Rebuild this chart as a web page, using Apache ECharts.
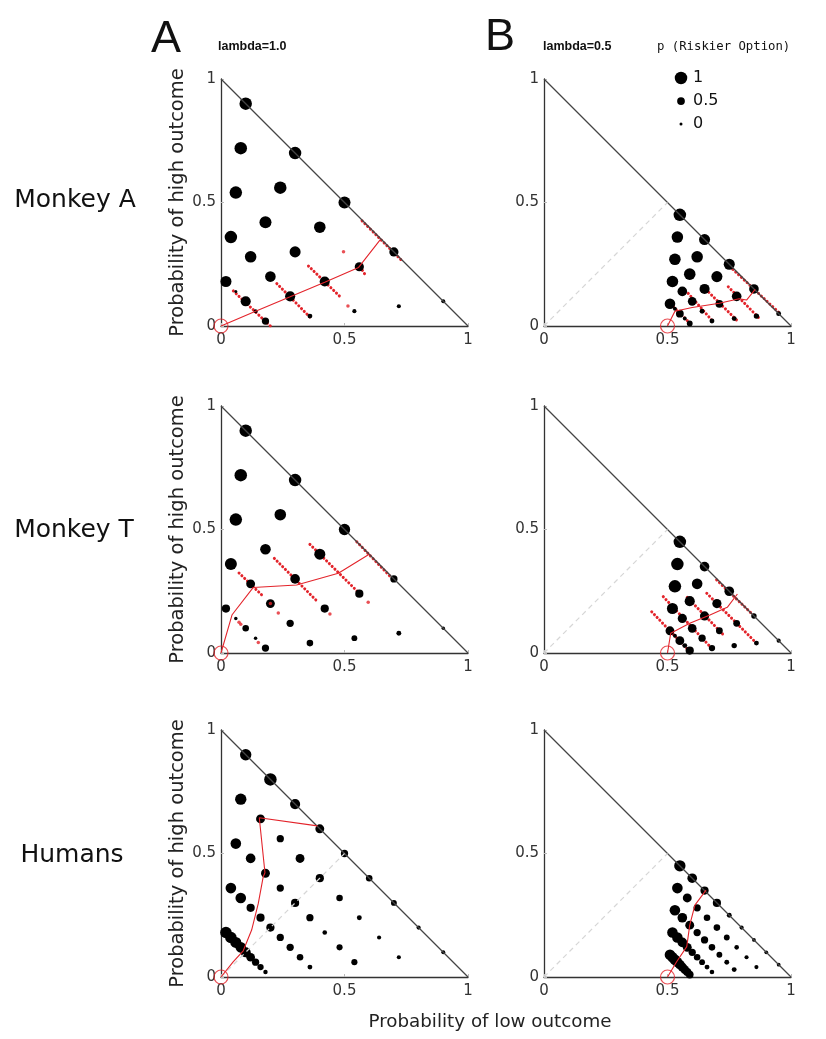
<!DOCTYPE html>
<html>
<head>
<meta charset="utf-8">
<script src="https://cdn.jsdelivr.net/npm/echarts@6/dist/echarts.min.js"></script>
<style>
html, body { margin: 0; padding: 0; background: #fff; }
#main { width: 826px; height: 1039px; }
</style>
</head>
<body>
<div id="main"></div>
<script>
// triangle frame and reference lines
const hypotenuse = [[0, 1], [1, 0]];
const diagonal = [[0, 0], [0.5, 0.5]];
const legendValues = [1, 0.5, 0];
const refA = [[0, 0]];
const refB = [[0.5, 0]];

// Monkey A, lambda = 1.0   [x, y, p(riskier)]
const monkeyA_l10 = [
    [0.1, 0.9, 1], [0.08, 0.72, 1], [0.06, 0.54, 1], [0.04, 0.36, 1], [0.02, 0.18, 0.85],
    [0.3, 0.7, 1], [0.24, 0.56, 1], [0.18, 0.42, 0.95], [0.12, 0.28, 0.9], [0.06, 0.14, 0],
    [0.5, 0.5, 0.95], [0.4, 0.4, 0.9], [0.3, 0.3, 0.85], [0.2, 0.2, 0.8], [0.1, 0.1, 0.75],
    [0.7, 0.3, 0.65], [0.56, 0.24, 0.65], [0.42, 0.18, 0.75], [0.28, 0.12, 0.75], [0.14, 0.06, 0.1],
    [0.9, 0.1, 0.1], [0.72, 0.08, 0.12], [0.54, 0.06, 0.12], [0.36, 0.04, 0.2], [0.18, 0.02, 0.45]
];
const monkeyA_l10_red = [
    [[0.05, 0.142], [0.2, 0.0]],
    [[0.226, 0.172], [0.365, 0.031]],
    [[0.354, 0.243], [0.483, 0.118]],
    [[0.564, 0.239], [0.581, 0.212]],
    [[0.571, 0.426], [0.733, 0.264]]
];
const monkeyA_l10_spots = [[0.496, 0.301], [0.514, 0.081]];
const monkeyA_l10_path = [[0, 0], [0.14, 0.06], [0.28, 0.118], [0.42, 0.177], [0.557, 0.237], [0.645, 0.35]];

// Monkey A, lambda = 0.5
const monkeyA_l05 = [
    [0.55, 0.45, 1], [0.54, 0.36, 0.9], [0.53, 0.27, 0.9], [0.52, 0.18, 0.9], [0.51, 0.09, 0.8],
    [0.65, 0.35, 0.85], [0.62, 0.28, 0.9], [0.59, 0.21, 0.9], [0.56, 0.14, 0.7], [0.53, 0.07, 0.1],
    [0.75, 0.25, 0.85], [0.7, 0.2, 0.85], [0.65, 0.15, 0.75], [0.6, 0.1, 0.6], [0.55, 0.05, 0.5],
    [0.85, 0.15, 0.7], [0.78, 0.12, 0.7], [0.71, 0.09, 0.5], [0.64, 0.06, 0.2], [0.57, 0.03, 0.1],
    [0.95, 0.05, 0.2], [0.86, 0.04, 0.25], [0.77, 0.03, 0.2], [0.68, 0.02, 0.2], [0.59, 0.01, 0.3]
];
const monkeyA_l05_red = [
    [[0.524, 0.078], [0.591, 0.011]],
    [[0.584, 0.132], [0.679, 0.024]],
    [[0.645, 0.159], [0.78, 0.024]],
    [[0.746, 0.159], [0.868, 0.035]],
    [[0.753, 0.24], [0.955, 0.051]]
];
const monkeyA_l05_spots = [];
const monkeyA_l05_path = [[0.5, 0], [0.53, 0.06], [0.6, 0.075], [0.71, 0.092], [0.79, 0.11], [0.82, 0.105], [0.855, 0.148]];

// Monkey T, lambda = 1.0
const monkeyT_l10 = [
    [0.1, 0.9, 1], [0.08, 0.72, 1], [0.06, 0.54, 1], [0.04, 0.36, 0.95], [0.02, 0.18, 0.55],
    [0.3, 0.7, 1], [0.24, 0.56, 0.9], [0.18, 0.42, 0.8], [0.12, 0.28, 0.62], [0.06, 0.14, 0.05],
    [0.5, 0.5, 0.88], [0.4, 0.4, 0.85], [0.3, 0.3, 0.7], [0.2, 0.2, 0.62], [0.1, 0.1, 0.375],
    [0.7, 0.3, 0.45], [0.56, 0.24, 0.55], [0.42, 0.18, 0.55], [0.28, 0.12, 0.45], [0.14, 0.06, 0.05],
    [0.9, 0.1, 0.05], [0.72, 0.08, 0.2], [0.54, 0.06, 0.3], [0.36, 0.04, 0.375], [0.18, 0.02, 0.45]
];
const monkeyT_l10_red = [
    [[0.073, 0.324], [0.165, 0.235]],
    [[0.216, 0.383], [0.394, 0.205]],
    [[0.36, 0.44], [0.565, 0.237]],
    [[0.55, 0.45], [0.69, 0.305]]
];
const monkeyT_l10_spots = [[0.073, 0.124], [0.08, 0.116], [0.151, 0.043], [0.2, 0.2], [0.232, 0.162], [0.441, 0.158], [0.596, 0.205]];
const monkeyT_l10_path = [[0, 0], [0.045, 0.155], [0.13, 0.265], [0.306, 0.275], [0.475, 0.323], [0.6, 0.4]];

// Monkey T, lambda = 0.5
const monkeyT_l05 = [
    [0.55, 0.45, 1], [0.54, 0.36, 1], [0.53, 0.27, 1], [0.52, 0.18, 0.85], [0.51, 0.09, 0.62],
    [0.65, 0.35, 0.7], [0.62, 0.28, 0.8], [0.59, 0.21, 0.75], [0.56, 0.14, 0.65], [0.53, 0.07, 0.1],
    [0.75, 0.25, 0.7], [0.7, 0.2, 0.65], [0.65, 0.15, 0.65], [0.6, 0.1, 0.6], [0.55, 0.05, 0.62],
    [0.85, 0.15, 0.25], [0.78, 0.12, 0.4], [0.71, 0.09, 0.4], [0.64, 0.06, 0.45], [0.57, 0.03, 0.2],
    [0.95, 0.05, 0.12], [0.86, 0.04, 0.2], [0.77, 0.03, 0.25], [0.68, 0.02, 0.35], [0.59, 0.01, 0.55]
];
const monkeyT_l05_red = [
    [[0.436, 0.167], [0.591, 0.005]],
    [[0.483, 0.228], [0.679, 0.019]],
    [[0.58, 0.225], [0.73, 0.07]],
    [[0.659, 0.242], [0.868, 0.032]],
    [[0.699, 0.296], [0.854, 0.147]]
];
const monkeyT_l05_spots = [];
const monkeyT_l05_path = [[0.5, 0], [0.513, 0.08], [0.59, 0.12], [0.672, 0.154], [0.742, 0.185], [0.783, 0.239]];

// Humans, lambda = 1.0
const humans_l10 = [
    [0.1, 0.9, 0.88], [0.2, 0.8, 1], [0.3, 0.7, 0.75], [0.4, 0.6, 0.62], [0.5, 0.5, 0.45],
    [0.6, 0.4, 0.375], [0.7, 0.3, 0.3], [0.8, 0.2, 0.12], [0.9, 0.1, 0.1],
    [0.08, 0.72, 0.88], [0.16, 0.64, 0.62], [0.24, 0.56, 0.45], [0.32, 0.48, 0.62], [0.4, 0.4, 0.55],
    [0.48, 0.32, 0.375], [0.56, 0.24, 0.2], [0.64, 0.16, 0.12], [0.72, 0.08, 0.12],
    [0.06, 0.54, 0.8], [0.12, 0.48, 0.7], [0.18, 0.42, 0.62], [0.24, 0.36, 0.45], [0.3, 0.3, 0.55],
    [0.36, 0.24, 0.45], [0.42, 0.18, 0.17], [0.48, 0.12, 0.33], [0.54, 0.06, 0.33],
    [0.04, 0.36, 0.8], [0.08, 0.32, 0.8], [0.12, 0.28, 0.55], [0.16, 0.24, 0.55], [0.2, 0.2, 0.55],
    [0.24, 0.16, 0.45], [0.28, 0.12, 0.45], [0.32, 0.08, 0.375], [0.36, 0.04, 0.2],
    [0.02, 0.18, 0.9], [0.04, 0.16, 0.9], [0.06, 0.14, 0.85], [0.08, 0.12, 0.8], [0.1, 0.1, 0.75],
    [0.12, 0.08, 0.6], [0.14, 0.06, 0.45], [0.16, 0.04, 0.35], [0.18, 0.02, 0.15]
];
const humans_l10_red = [];
const humans_l10_spots = [];
const humans_l10_path = [[0, 0], [0.05, 0.062], [0.09, 0.106], [0.124, 0.19], [0.151, 0.298], [0.171, 0.406], [0.178, 0.422], [0.155, 0.645], [0.39, 0.612]];

// Humans, lambda = 0.5
const humans_l05 = [
    [0.55, 0.45, 0.88], [0.6, 0.4, 0.7], [0.65, 0.35, 0.55], [0.7, 0.3, 0.55], [0.75, 0.25, 0.2],
    [0.8, 0.2, 0.12], [0.85, 0.15, 0.08], [0.9, 0.1, 0.08], [0.95, 0.05, 0.08],
    [0.54, 0.36, 0.8], [0.58, 0.32, 0.62], [0.62, 0.28, 0.45], [0.66, 0.24, 0.375], [0.7, 0.2, 0.375],
    [0.74, 0.16, 0.3], [0.78, 0.12, 0.17], [0.82, 0.08, 0.12], [0.86, 0.04, 0.12],
    [0.53, 0.27, 0.8], [0.56, 0.24, 0.7], [0.59, 0.21, 0.62], [0.62, 0.18, 0.45], [0.65, 0.15, 0.45],
    [0.68, 0.12, 0.375], [0.71, 0.09, 0.3], [0.74, 0.06, 0.2], [0.77, 0.03, 0.2],
    [0.52, 0.18, 0.8], [0.54, 0.16, 0.8], [0.56, 0.14, 0.7], [0.58, 0.12, 0.62], [0.6, 0.1, 0.45],
    [0.62, 0.08, 0.375], [0.64, 0.06, 0.3], [0.66, 0.04, 0.2], [0.68, 0.02, 0.17],
    [0.51, 0.09, 0.8], [0.52, 0.08, 0.8], [0.53, 0.07, 0.8], [0.54, 0.06, 0.75], [0.55, 0.05, 0.7],
    [0.56, 0.04, 0.65], [0.57, 0.03, 0.6], [0.58, 0.02, 0.55], [0.59, 0.01, 0.5]
];
const humans_l05_red = [];
const humans_l05_spots = [];
const humans_l05_path = [[0.5, 0], [0.537, 0.062], [0.578, 0.123], [0.59, 0.21], [0.611, 0.291], [0.656, 0.352]];

const RED = '#e3242b';
const sizeOf = p => 3 + 9.5 * p;

// row-major: A | B per row
const panels = [
    { dots: monkeyA_l10, red: monkeyA_l10_red, spots: monkeyA_l10_spots, path: monkeyA_l10_path, ref: refA, diag: false },
    { dots: monkeyA_l05, red: monkeyA_l05_red, spots: monkeyA_l05_spots, path: monkeyA_l05_path, ref: refB, diag: true },
    { dots: monkeyT_l10, red: monkeyT_l10_red, spots: monkeyT_l10_spots, path: monkeyT_l10_path, ref: refA, diag: false },
    { dots: monkeyT_l05, red: monkeyT_l05_red, spots: monkeyT_l05_spots, path: monkeyT_l05_path, ref: refB, diag: true },
    { dots: humans_l10, red: humans_l10_red, spots: humans_l10_spots, path: humans_l10_path, ref: refA, diag: true },
    { dots: humans_l05, red: humans_l05_red, spots: humans_l05_spots, path: humans_l05_path, ref: refB, diag: true }
];

const gridLeft = [221, 544];
const gridTop = [79, 406, 730];
const SIDE = 247;

const grids = [], xAxes = [], yAxes = [], series = [];
panels.forEach((p, i) => {
    grids.push({ left: gridLeft[i % 2], top: gridTop[Math.floor(i / 2)], width: SIDE, height: SIDE });
    const axisBase = {
        gridIndex: i, type: 'value', min: 0, max: 1, interval: 0.5,
        axisLine: { show: true, onZero: false, lineStyle: { color: '#333', width: 1.3 } },
        axisTick: { show: true, inside: true, length: 3, lineStyle: { color: '#bbb' } },
        splitLine: { show: false },
        axisLabel: { fontSize: 15, color: '#333', fontFamily: 'DejaVu Sans' }
    };
    xAxes.push(Object.assign({}, axisBase, { axisLabel: Object.assign({}, axisBase.axisLabel, { margin: 7 }) }));
    yAxes.push(Object.assign({}, axisBase, { axisLabel: Object.assign({}, axisBase.axisLabel, { margin: 5 }) }));

    const ax = { xAxisIndex: i, yAxisIndex: i, silent: true };
    series.push(Object.assign({
        type: 'line', data: hypotenuse, symbol: 'none', clip: false,
        lineStyle: { color: '#444', width: 1.2 }
    }, ax));
    if (p.diag) {
        series.push(Object.assign({
            type: 'line', data: diagonal, symbol: 'none', clip: false,
            lineStyle: { color: '#d6d6d6', width: 1.2, type: [5, 4] }
        }, ax));
    }
    series.push(Object.assign({
        type: 'scatter', data: p.dots, symbol: 'circle',
        symbolSize: v => sizeOf(v[2]), itemStyle: { color: '#000', opacity: 1 }
    }, ax));
    if (p.red.length) {
        series.push(Object.assign({
            type: 'lines', coordinateSystem: 'cartesian2d',
            data: p.red.map(s => ({ coords: s })),
            lineStyle: { color: RED, width: 3, type: [0.1, 3.8], cap: 'round', opacity: 1, curveness: 0 }
        }, ax));
    }
    if (p.spots.length) {
        series.push(Object.assign({
            type: 'scatter', data: p.spots, symbolSize: 3.5, itemStyle: { color: RED }
        }, ax));
    }
    series.push(Object.assign({
        type: 'line', data: p.path, symbol: 'none', clip: false,
        lineStyle: { color: RED, width: 1.1 }
    }, ax));
    series.push(Object.assign({
        type: 'scatter', data: p.ref, symbolSize: 14, clip: false,
        itemStyle: { color: 'rgba(0,0,0,0)', borderColor: RED, borderWidth: 1.2 }
    }, ax));
});

const txt = (x, y, text, font, extra) => Object.assign({
    type: 'text', x: x, y: y, silent: true,
    style: Object.assign({ text: text, fill: '#111', textAlign: 'center', textVerticalAlign: 'middle' }, font)
}, extra || {});

const graphics = [
    txt(166, 40, 'A', { fontSize: 45, fontFamily: 'Liberation Sans' }),
    txt(500, 38, 'B', { fontSize: 45, fontFamily: 'Liberation Sans' }),
    txt(218, 47, 'lambda=1.0', { fontSize: 12.5, fontWeight: 'bold', fontFamily: 'Liberation Sans', textAlign: 'left' }),
    txt(543, 47, 'lambda=0.5', { fontSize: 12.5, fontWeight: 'bold', fontFamily: 'Liberation Sans', textAlign: 'left' }),
    txt(657, 47, 'p (Riskier Option)', { fontSize: 12.3, fontFamily: 'DejaVu Sans Mono', textAlign: 'left' }),
    txt(75, 200, 'Monkey A', { fontSize: 25, fontFamily: 'DejaVu Sans' }),
    txt(74, 530, 'Monkey T', { fontSize: 25, fontFamily: 'DejaVu Sans' }),
    txt(72, 855, 'Humans', { fontSize: 25, fontFamily: 'DejaVu Sans' }),
    txt(490, 1022, 'Probability of low outcome', { fontSize: 18.3, fontFamily: 'DejaVu Sans', fill: '#222' })
];
gridTop.forEach(t => {
    graphics.push(txt(178, t + SIDE / 2, 'Probability of high outcome',
        { fontSize: 19.5, fontFamily: 'DejaVu Sans', fill: '#222' }, { rotation: Math.PI / 2 }));
});
const legendY = [78, 101, 124];
legendValues.forEach((v, k) => {
    graphics.push({ type: 'circle', silent: true, shape: { cx: 681, cy: legendY[k], r: sizeOf(v) / 2 }, style: { fill: '#000' } });
    graphics.push(txt(693, legendY[k], String(v), { fontSize: 16, fontFamily: 'DejaVu Sans', textAlign: 'left' }));
});

const chart = echarts.init(document.getElementById('main'));
chart.setOption({
    animation: false,
    backgroundColor: '#fff',
    grid: grids,
    xAxis: xAxes,
    yAxis: yAxes,
    series: series,
    graphic: graphics
});
</script>
</body>
</html>
